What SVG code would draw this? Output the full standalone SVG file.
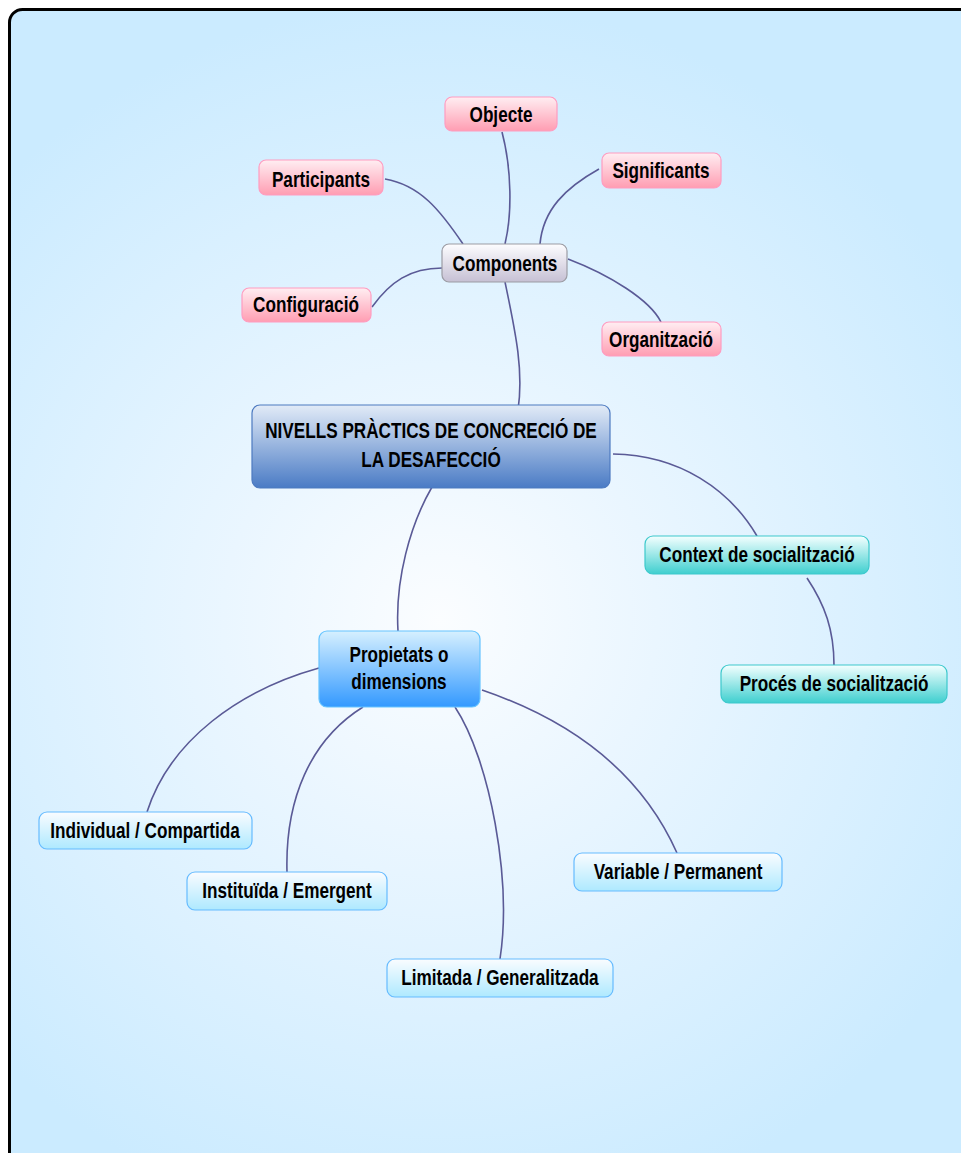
<svg xmlns="http://www.w3.org/2000/svg" width="961" height="1153" viewBox="0 0 961 1153">
  <defs>
    <radialGradient id="bg" cx="440" cy="620" r="620" gradientUnits="userSpaceOnUse">
      <stop offset="0" stop-color="#fbfdff"/>
      <stop offset="0.35" stop-color="#eaf6ff"/>
      <stop offset="1" stop-color="#cbebff"/>
    </radialGradient>
    <linearGradient id="gPink" x1="0" y1="0" x2="0" y2="1">
      <stop offset="0" stop-color="#ffeef2"/>
      <stop offset="1" stop-color="#ff9db2"/>
    </linearGradient>
    <linearGradient id="gGrey" x1="0" y1="0" x2="0" y2="1">
      <stop offset="0" stop-color="#fdfdff"/>
      <stop offset="1" stop-color="#c6c0d4"/>
    </linearGradient>
    <linearGradient id="gMain" x1="0" y1="0" x2="0" y2="1">
      <stop offset="0" stop-color="#e2ebf7"/>
      <stop offset="1" stop-color="#4a7bc5"/>
    </linearGradient>
    <linearGradient id="gTeal" x1="0" y1="0" x2="0" y2="1">
      <stop offset="0" stop-color="#f4ffff"/>
      <stop offset="1" stop-color="#3fcfcf"/>
    </linearGradient>
    <linearGradient id="gBlue" x1="0" y1="0" x2="0" y2="1">
      <stop offset="0" stop-color="#d6f0ff"/>
      <stop offset="1" stop-color="#3399ff"/>
    </linearGradient>
    <linearGradient id="gLeaf" x1="0" y1="0" x2="0" y2="1">
      <stop offset="0" stop-color="#fafcff"/>
      <stop offset="1" stop-color="#aee9ff"/>
    </linearGradient>
  </defs>
  <style>
    /* bold condensed labels: regular sans squeezed horizontally */
    text { font-family: "Liberation Sans", Arial, sans-serif; font-weight: bold; font-size: 22px; fill: #000; text-anchor: middle; }
    .pink rect { fill: url(#gPink); stroke: #ff9cc0; stroke-width: 1.2; }
    .grey rect { fill: url(#gGrey); stroke: #9c9ca4; stroke-width: 1.2; }
    .main rect { fill: url(#gMain); stroke: #4d7ac0; stroke-width: 1.2; }
    .teal rect { fill: url(#gTeal); stroke: #3cc8cc; stroke-width: 1.2; }
    .blue rect { fill: url(#gBlue); stroke: #66c4ff; stroke-width: 1.2; }
    .leaf rect { fill: url(#gLeaf); stroke: #66bbff; stroke-width: 1.2; }
    #connectors path { fill: none; stroke: #5a5a96; stroke-width: 1.6; }
  </style>

  <!-- page and frame -->
  <rect x="0" y="0" width="961" height="1153" fill="#ffffff"/>
  <rect x="9.5" y="9.5" width="1000" height="1200" rx="13" fill="url(#bg)" stroke="#000" stroke-width="3"/>

  <!-- connectors -->
  <g id="connectors">
    <path d="M502,132 C512,170 512,215 505,244"/>
    <path d="M385,179 C420,185 440,210 463,244"/>
    <path d="M599,169 C565,188 543,210 540,244"/>
    <path d="M372,307 C390,282 410,268 442,268"/>
    <path d="M568,259 C610,275 650,300 661,322"/>
    <path d="M505,282 C515,330 524,370 518,410"/>
    <path d="M613,454 C680,455 730,490 757,536"/>
    <path d="M807,578 C825,605 834,630 834,665"/>
    <path d="M432,487 C410,525 395,580 398,631"/>
    <path d="M319,668 C240,690 170,740 147,812"/>
    <path d="M363,707 C310,740 285,800 287,872"/>
    <path d="M455,707 C490,760 512,880 500,959"/>
    <path d="M482,690 C570,720 640,770 677,853"/>
  </g>

  <!-- nodes -->
  <g id="objecte" class="pink">
    <rect x="445" y="97" width="112" height="34" rx="7"/>
    <text transform="translate(501,122) scale(0.78,1)">Objecte</text>
  </g>
  <g id="participants" class="pink">
    <rect x="259" y="160" width="124" height="35" rx="7"/>
    <text transform="translate(321,187) scale(0.78,1)">Participants</text>
  </g>
  <g id="significants" class="pink">
    <rect x="602" y="153" width="119" height="35" rx="7"/>
    <text transform="translate(661,178) scale(0.78,1)">Significants</text>
  </g>
  <g id="components" class="grey">
    <rect x="442" y="244" width="125" height="38" rx="7"/>
    <text transform="translate(505,271) scale(0.78,1)">Components</text>
  </g>
  <g id="configuracio" class="pink">
    <rect x="242" y="288" width="129" height="34" rx="7"/>
    <text transform="translate(306,312) scale(0.78,1)">Configuració</text>
  </g>
  <g id="organitzacio" class="pink">
    <rect x="602" y="322" width="119" height="34" rx="7"/>
    <text transform="translate(661,347) scale(0.78,1)">Organització</text>
  </g>
  <g id="nivells" class="main">
    <rect x="252" y="405" width="358" height="83" rx="8"/>
    <text transform="translate(431,438) scale(0.78,1)">NIVELLS PRÀCTICS DE CONCRECIÓ DE</text>
    <text transform="translate(431,467) scale(0.78,1)">LA DESAFECCIÓ</text>
  </g>
  <g id="context" class="teal">
    <rect x="645" y="536" width="224" height="38" rx="8"/>
    <text transform="translate(757,562) scale(0.78,1)">Context de socialització</text>
  </g>
  <g id="proces" class="teal">
    <rect x="721" y="665" width="226" height="38" rx="8"/>
    <text transform="translate(834,691) scale(0.78,1)">Procés de socialització</text>
  </g>
  <g id="propietats" class="blue">
    <rect x="319" y="631" width="161" height="76" rx="8"/>
    <text transform="translate(399,662) scale(0.78,1)">Propietats o</text>
    <text transform="translate(399,689) scale(0.78,1)">dimensions</text>
  </g>
  <g id="individual" class="leaf">
    <rect x="39" y="812" width="213" height="37" rx="8"/>
    <text transform="translate(145,838) scale(0.78,1)">Individual / Compartida</text>
  </g>
  <g id="instituida" class="leaf">
    <rect x="187" y="872" width="200" height="38" rx="8"/>
    <text transform="translate(287,898) scale(0.78,1)">Instituïda / Emergent</text>
  </g>
  <g id="limitada" class="leaf">
    <rect x="387" y="959" width="226" height="38" rx="8"/>
    <text transform="translate(500,985) scale(0.78,1)">Limitada / Generalitzada</text>
  </g>
  <g id="variable" class="leaf">
    <rect x="574" y="853" width="208" height="38" rx="8"/>
    <text transform="translate(678,879) scale(0.78,1)">Variable / Permanent</text>
  </g>
</svg>
